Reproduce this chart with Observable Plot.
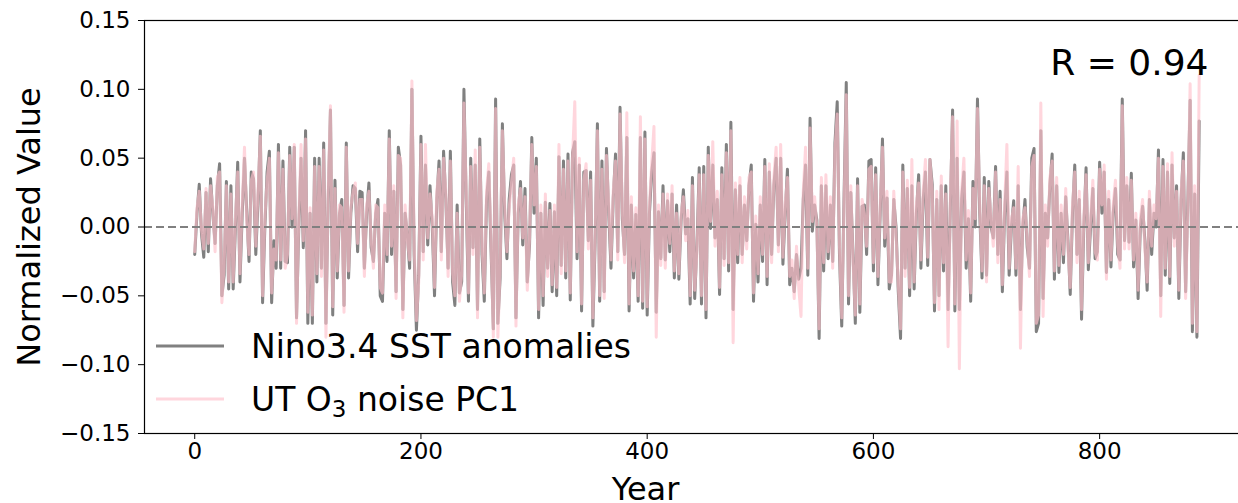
<!DOCTYPE html>
<html><head><meta charset="utf-8">
<script src="https://cdn.jsdelivr.net/npm/d3@7"></script>
<script src="https://cdn.jsdelivr.net/npm/@observablehq/plot@0.6"></script>
<style>
html,body{margin:0;padding:0;background:#fff;overflow:hidden;width:1238px;height:503px;}
#chart{position:relative;width:1238px;height:503px;overflow:hidden;}
</style></head><body><div id="chart"></div>
<script>
const ninoSST = [
 -0.020, 0.010, 0.031, -0.005, -0.022, 0.025, -0.018, 0.035, 0.010, -0.012,
 0.030, 0.046, -0.050, -0.035, 0.033, -0.045, 0.030, -0.045, 0.000, 0.047,
 -0.040, 0.010, 0.050, 0.010, -0.025, 0.040, 0.035, -0.020, 0.020, 0.070,
 -0.055, 0.000, 0.040, 0.055, -0.055, -0.010, -0.030, 0.060, -0.030, 0.048,
 -0.025, -0.026, 0.058, 0.000, 0.058, -0.066, 0.000, 0.050, -0.015, 0.070,
 -0.070, 0.010, -0.070, 0.050, -0.040, 0.050, -0.030, 0.061, -0.070, 0.020,
 0.085, -0.064, 0.034, -0.037, 0.010, 0.020, -0.057, 0.061, -0.037, 0.010,
 0.030, 0.028, -0.018, 0.026,
 0.025, -0.030, 0.010, 0.032, -0.015, -0.025, 0.010, 0.020, -0.050, -0.054,
 0.010, -0.025, 0.070, -0.020, 0.026, -0.047, 0.058, 0.045, -0.060, 0.010,
 -0.006, -0.030, 0.100, -0.020, -0.075, -0.035, 0.066, -0.018, 0.045, -0.013,
 0.030, 0.000, -0.050, 0.020, 0.048, -0.018, 0.055, 0.020, -0.030, 0.055,
 -0.040, -0.057, 0.016, -0.048, -0.040, 0.100, 0.020, -0.054, 0.050, -0.015,
 0.045, -0.060, 0.064, -0.020, -0.054, 0.020, 0.040, -0.018, -0.074, 0.093,
 -0.070, -0.037, 0.075, 0.010, -0.023, 0.020, 0.038, 0.045, -0.066, 0.010,
 0.033, -0.013, 0.028, -0.040,
 -0.013, 0.065, 0.010, 0.050, -0.066, 0.010, -0.057, 0.018, -0.030, 0.017,
 -0.047, 0.011, -0.050, 0.051, -0.028, 0.048, -0.037, 0.053, -0.053, 0.054,
 0.062, -0.023, 0.045, -0.061, 0.040, 0.041, -0.010, 0.040, -0.072, -0.010,
 0.075, -0.054, 0.048, -0.047, 0.057, 0.010, -0.030, 0.021, 0.053, -0.018,
 0.087, 0.006, -0.020, 0.065, -0.061, 0.016, -0.037, 0.009, -0.054, 0.065,
 -0.059, 0.069, -0.064, 0.010, 0.040, 0.054, -0.062, 0.011, -0.023, 0.030,
 -0.024, 0.019, -0.018, 0.024, -0.037, 0.016, -0.038, 0.005, 0.027, -0.005,
 0.006, -0.056, 0.036, -0.052, -0.013, 0.043,
 -0.056, 0.044, -0.066, 0.058, -0.001, 0.045, -0.008, 0.020, -0.049, 0.043,
 -0.023, 0.060, -0.032, 0.076, -0.060, 0.027, -0.026, 0.030, -0.020, 0.016,
 -0.010, 0.030, 0.045, -0.054, 0.002, -0.040, 0.016, -0.025, 0.049, -0.042,
 0.040, -0.020, 0.030, 0.050, -0.013, 0.050, -0.027, 0.010, 0.042, -0.042,
 -0.030, -0.047, -0.020, -0.038, -0.030, 0.020, 0.045, -0.035, 0.079, -0.003,
 0.016, 0.005, -0.081, 0.030, -0.032, 0.030, -0.023, 0.016, -0.025, 0.061,
 0.091, -0.020, -0.072, 0.020, 0.105, -0.056, 0.025, -0.020, -0.070, 0.035,
 -0.062, 0.015, 0.016, -0.020, 0.048,
 0.049, -0.032, 0.043, -0.042, 0.010, 0.064, -0.014, 0.021, -0.045, -0.035,
 0.020, 0.000, -0.047, -0.081, 0.045, -0.030, 0.028, -0.050, 0.030, -0.045,
 0.010, 0.038, -0.030, 0.020, 0.040, -0.028, 0.049, 0.031, -0.061, 0.020,
 -0.050, 0.030, -0.032, 0.030, -0.060, 0.014, 0.085, -0.061, 0.050, -0.060,
 0.020, 0.040, -0.030, 0.006, -0.054, 0.033, 0.000, 0.093, 0.010, -0.037,
 0.036, -0.035, 0.033, 0.000, -0.008, 0.044, -0.020, 0.026, -0.047, 0.010,
 0.040, -0.035, 0.000, 0.019, -0.035, 0.030, -0.060, 0.000, 0.020, -0.015,
 -0.030, 0.050, 0.057, -0.076,
 -0.070, 0.070, -0.052, 0.010, -0.008, 0.030, 0.053, -0.038, 0.030, -0.033,
 0.010, -0.026, 0.022, -0.010, -0.049, 0.010, 0.045, -0.020, 0.020, -0.067,
 0.000, 0.043, -0.031, 0.000, 0.028, -0.023, -0.018, 0.047, 0.010, 0.040,
 -0.033, 0.020, -0.029, 0.010, 0.028, -0.020, -0.024, 0.093, -0.010, 0.030,
 -0.011, 0.039, -0.029, 0.005, -0.052, 0.000, 0.015, -0.010, -0.046, 0.020,
 -0.020, 0.010, 0.000, 0.056, -0.050, 0.049, -0.035, 0.040, -0.041, 0.045,
 -0.008, 0.030, -0.052, 0.020, 0.054, -0.047, 0.020, 0.092, -0.076, 0.024,
 -0.080, 0.077
];
// UT O3 noise PC1 (normalized), same sampling
const utO3PC1 = [
 -0.018, 0.014, 0.026, -0.002, -0.016, 0.028, -0.012, 0.030, 0.014, -0.018,
 0.036, 0.040, -0.055, -0.028, 0.030, -0.040, 0.024, -0.040, 0.006, 0.040,
 -0.034, 0.016, 0.058, 0.004, -0.020, 0.034, 0.040, -0.014, 0.026, 0.066,
 -0.050, 0.006, 0.034, 0.050, -0.048, -0.016, -0.024, 0.054, -0.024, 0.042,
 -0.030, -0.020, 0.052, 0.006, 0.060, -0.070, 0.006, 0.060, -0.010, 0.064,
 -0.062, 0.014, -0.064, 0.044, -0.034, 0.044, -0.036, 0.056, -0.080, 0.026,
 0.088, -0.058, 0.028, -0.032, 0.016, 0.014, -0.062, 0.058, -0.032, 0.014,
 0.026, 0.032, -0.012, 0.020,
 0.020, -0.036, 0.016, 0.026, -0.010, -0.030, 0.016, 0.014, -0.044, -0.048,
 0.016, -0.020, 0.064, -0.014, 0.030, -0.052, 0.052, 0.050, -0.066, 0.016,
 -0.010, -0.024, 0.106, -0.014, -0.068, -0.040, 0.060, -0.024, 0.060, -0.008,
 0.024, 0.006, -0.044, 0.026, 0.042, -0.024, 0.050, 0.026, -0.036, 0.048,
 -0.034, -0.050, 0.010, -0.054, -0.034, 0.090, 0.026, -0.048, 0.044, -0.020,
 0.056, -0.066, 0.058, -0.014, -0.048, 0.026, 0.046, -0.012, -0.080, 0.086,
 -0.080, -0.030, 0.070, 0.016, -0.018, 0.014, 0.032, 0.050, -0.072, 0.016,
 0.028, -0.008, 0.022, -0.046,
 -0.008, 0.060, 0.016, 0.044, -0.060, 0.016, -0.050, 0.024, -0.036, 0.012,
 -0.042, 0.016, -0.044, 0.060, -0.034, 0.042, -0.032, 0.048, -0.048, 0.050,
 0.091, -0.018, 0.050, -0.056, 0.034, 0.046, -0.016, 0.034, -0.066, -0.004,
 0.070, -0.050, 0.042, -0.052, 0.052, 0.016, -0.024, 0.026, 0.048, -0.024,
 0.082, 0.012, -0.026, 0.083, -0.056, 0.022, -0.032, 0.014, -0.050, 0.080,
 -0.054, 0.064, -0.058, 0.016, 0.046, 0.073, -0.080, 0.016, -0.028, 0.024,
 -0.030, 0.024, -0.012, 0.030, -0.032, 0.010, -0.034, 0.010, 0.022, -0.010,
 0.012, -0.050, 0.030, -0.046, -0.018, 0.038,
 -0.050, 0.038, -0.060, 0.052, 0.004, 0.062, -0.014, 0.026, -0.044, 0.038,
 -0.028, 0.054, -0.026, 0.070, -0.084, 0.032, -0.020, 0.036, -0.026, 0.022,
 -0.016, 0.036, 0.040, -0.048, 0.008, -0.034, 0.022, -0.020, 0.044, -0.036,
 0.046, -0.026, 0.036, 0.058, -0.018, 0.060, -0.022, 0.016, 0.036, -0.036,
 -0.024, -0.052, -0.014, -0.044, -0.065, 0.026, 0.058, -0.030, 0.072, 0.004,
 0.022, 0.000, -0.074, 0.036, -0.026, 0.038, -0.018, 0.022, -0.030, 0.056,
 0.082, -0.014, -0.066, 0.014, 0.096, -0.050, 0.030, -0.026, -0.064, 0.030,
 -0.056, 0.020, 0.010, -0.014, 0.042,
 0.044, -0.026, 0.038, -0.036, 0.016, 0.058, -0.008, 0.026, -0.040, -0.040,
 0.026, -0.006, -0.042, -0.074, 0.040, -0.036, 0.034, -0.044, 0.049, -0.040,
 0.016, 0.032, -0.024, 0.026, 0.049, -0.022, 0.049, 0.026, -0.055, 0.026,
 -0.060, 0.037, -0.026, 0.024, -0.087, 0.020, 0.080, -0.056, 0.077, -0.103,
 0.026, 0.050, -0.024, 0.012, -0.048, 0.028, 0.006, 0.086, 0.016, -0.032,
 0.030, -0.040, 0.028, 0.006, -0.014, 0.040, -0.026, 0.020, -0.042, 0.016,
 0.060, -0.030, 0.006, 0.014, -0.030, 0.044, -0.088, 0.006, 0.014, -0.010,
 -0.036, 0.044, 0.052, -0.070,
 -0.064, 0.090, -0.065, 0.016, -0.014, 0.036, 0.048, -0.032, 0.036, -0.028,
 0.016, -0.020, 0.028, -0.016, -0.044, 0.016, 0.040, -0.026, 0.026, -0.060,
 0.006, 0.038, -0.026, 0.006, 0.034, -0.018, -0.024, 0.042, 0.016, 0.045,
 -0.038, 0.026, -0.024, 0.016, 0.034, -0.014, -0.030, 0.088, -0.016, 0.036,
 -0.016, 0.034, -0.024, 0.010, -0.046, 0.006, 0.020, -0.016, -0.040, 0.026,
 -0.014, 0.016, 0.006, 0.050, -0.065, 0.044, -0.030, 0.046, -0.036, 0.054,
 -0.014, 0.026, -0.046, 0.026, 0.048, -0.052, 0.014, 0.104, -0.070, 0.030,
 -0.076, 0.110
];
const yearStep = 2;
const years = ninoSST.map((_, i) => i * yearStep);
const xTicks = [0, 200, 400, 600, 800];
const yTicks = [-0.15, -0.10, -0.05, 0.00, 0.05, 0.10, 0.15];
const seriesLabels = ["Nino3.4 SST anomalies", "UT O3 noise PC1"];
const seriesColors = ["#808080", "#ffc0cb"];
const corrText = "R = 0.94";
const xLabel = "Year";
const yLabel = "Normalized Value";

const rows = years.map((yr, i) => ({year: yr, sst: ninoSST[i], o3: utO3PC1[i]}));
const fmtY = d => (d < 0 ? "\u2212" : "") + Math.abs(d).toFixed(2);
const FONT = "DejaVu Sans";

const plot = Plot.plot({
  width: 1248, height: 503,
  marginLeft: 144, marginRight: 0, marginTop: 20, marginBottom: 70,
  style: {fontFamily: FONT, fontSize: "23px", maxWidth: "none", background: "white", color: "black"},
  x: {domain: [-44.4, 931.6]},
  y: {domain: [-0.15, 0.15]},
  marks: [
    Plot.line(rows, {x: "year", y: "sst", stroke: seriesColors[0], strokeWidth: 3}),
    Plot.line(rows, {x: "year", y: "o3", stroke: seriesColors[1], strokeOpacity: 0.65, strokeWidth: 3}),
    Plot.ruleY([0], {stroke: "#808080", strokeWidth: 2, strokeDasharray: "8,4"}),
    Plot.frame({stroke: "black", strokeWidth: 1.2}),
    Plot.axisX({ticks: xTicks, tickSize: 6, tickPadding: 3, tickFormat: d => String(d), label: null, fontSize: 23}),
    Plot.axisY({ticks: yTicks, tickSize: 6, tickPadding: 8, tickFormat: fmtY, label: null, fontSize: 23}),
    Plot.text([yLabel], {frameAnchor: "left", dx: -115, rotate: -90, fontSize: 32, textAnchor: "middle", lineAnchor: "middle"}),
    Plot.text([xLabel], {frameAnchor: "bottom", dx: 645 - 696, dy: 56, fontSize: 32, textAnchor: "middle", lineAnchor: "middle"}),
    Plot.text([corrText], {frameAnchor: "top-right", dx: -40, dy: 43, fontSize: 36, textAnchor: "end", lineAnchor: "middle"})
  ]
});
document.getElementById("chart").appendChild(plot);

// legend (lower left inside axes)
const svg = d3.select(plot);
const leg = svg.append("g").attr("font-family", FONT).attr("font-size", 33)
  .attr("fill", "black").attr("text-anchor", "start");
const rowsY = [346, 399];
leg.append("line").attr("x1", 156).attr("x2", 224).attr("y1", rowsY[0]).attr("y2", rowsY[0])
  .attr("stroke", seriesColors[0]).attr("stroke-width", 3);
leg.append("line").attr("x1", 156).attr("x2", 224).attr("y1", rowsY[1]).attr("y2", rowsY[1])
  .attr("stroke", seriesColors[1]).attr("stroke-opacity", 0.65).attr("stroke-width", 3);
leg.append("text").attr("x", 251).attr("y", rowsY[0] + 12).text(seriesLabels[0]);
const t2 = leg.append("text").attr("x", 251).attr("y", rowsY[1] + 12);
t2.append("tspan").text("UT O");
t2.append("tspan").attr("font-size", 23).attr("dy", 6).text("3");
t2.append("tspan").attr("dy", -6).text(" noise PC1");
</script></body></html>
